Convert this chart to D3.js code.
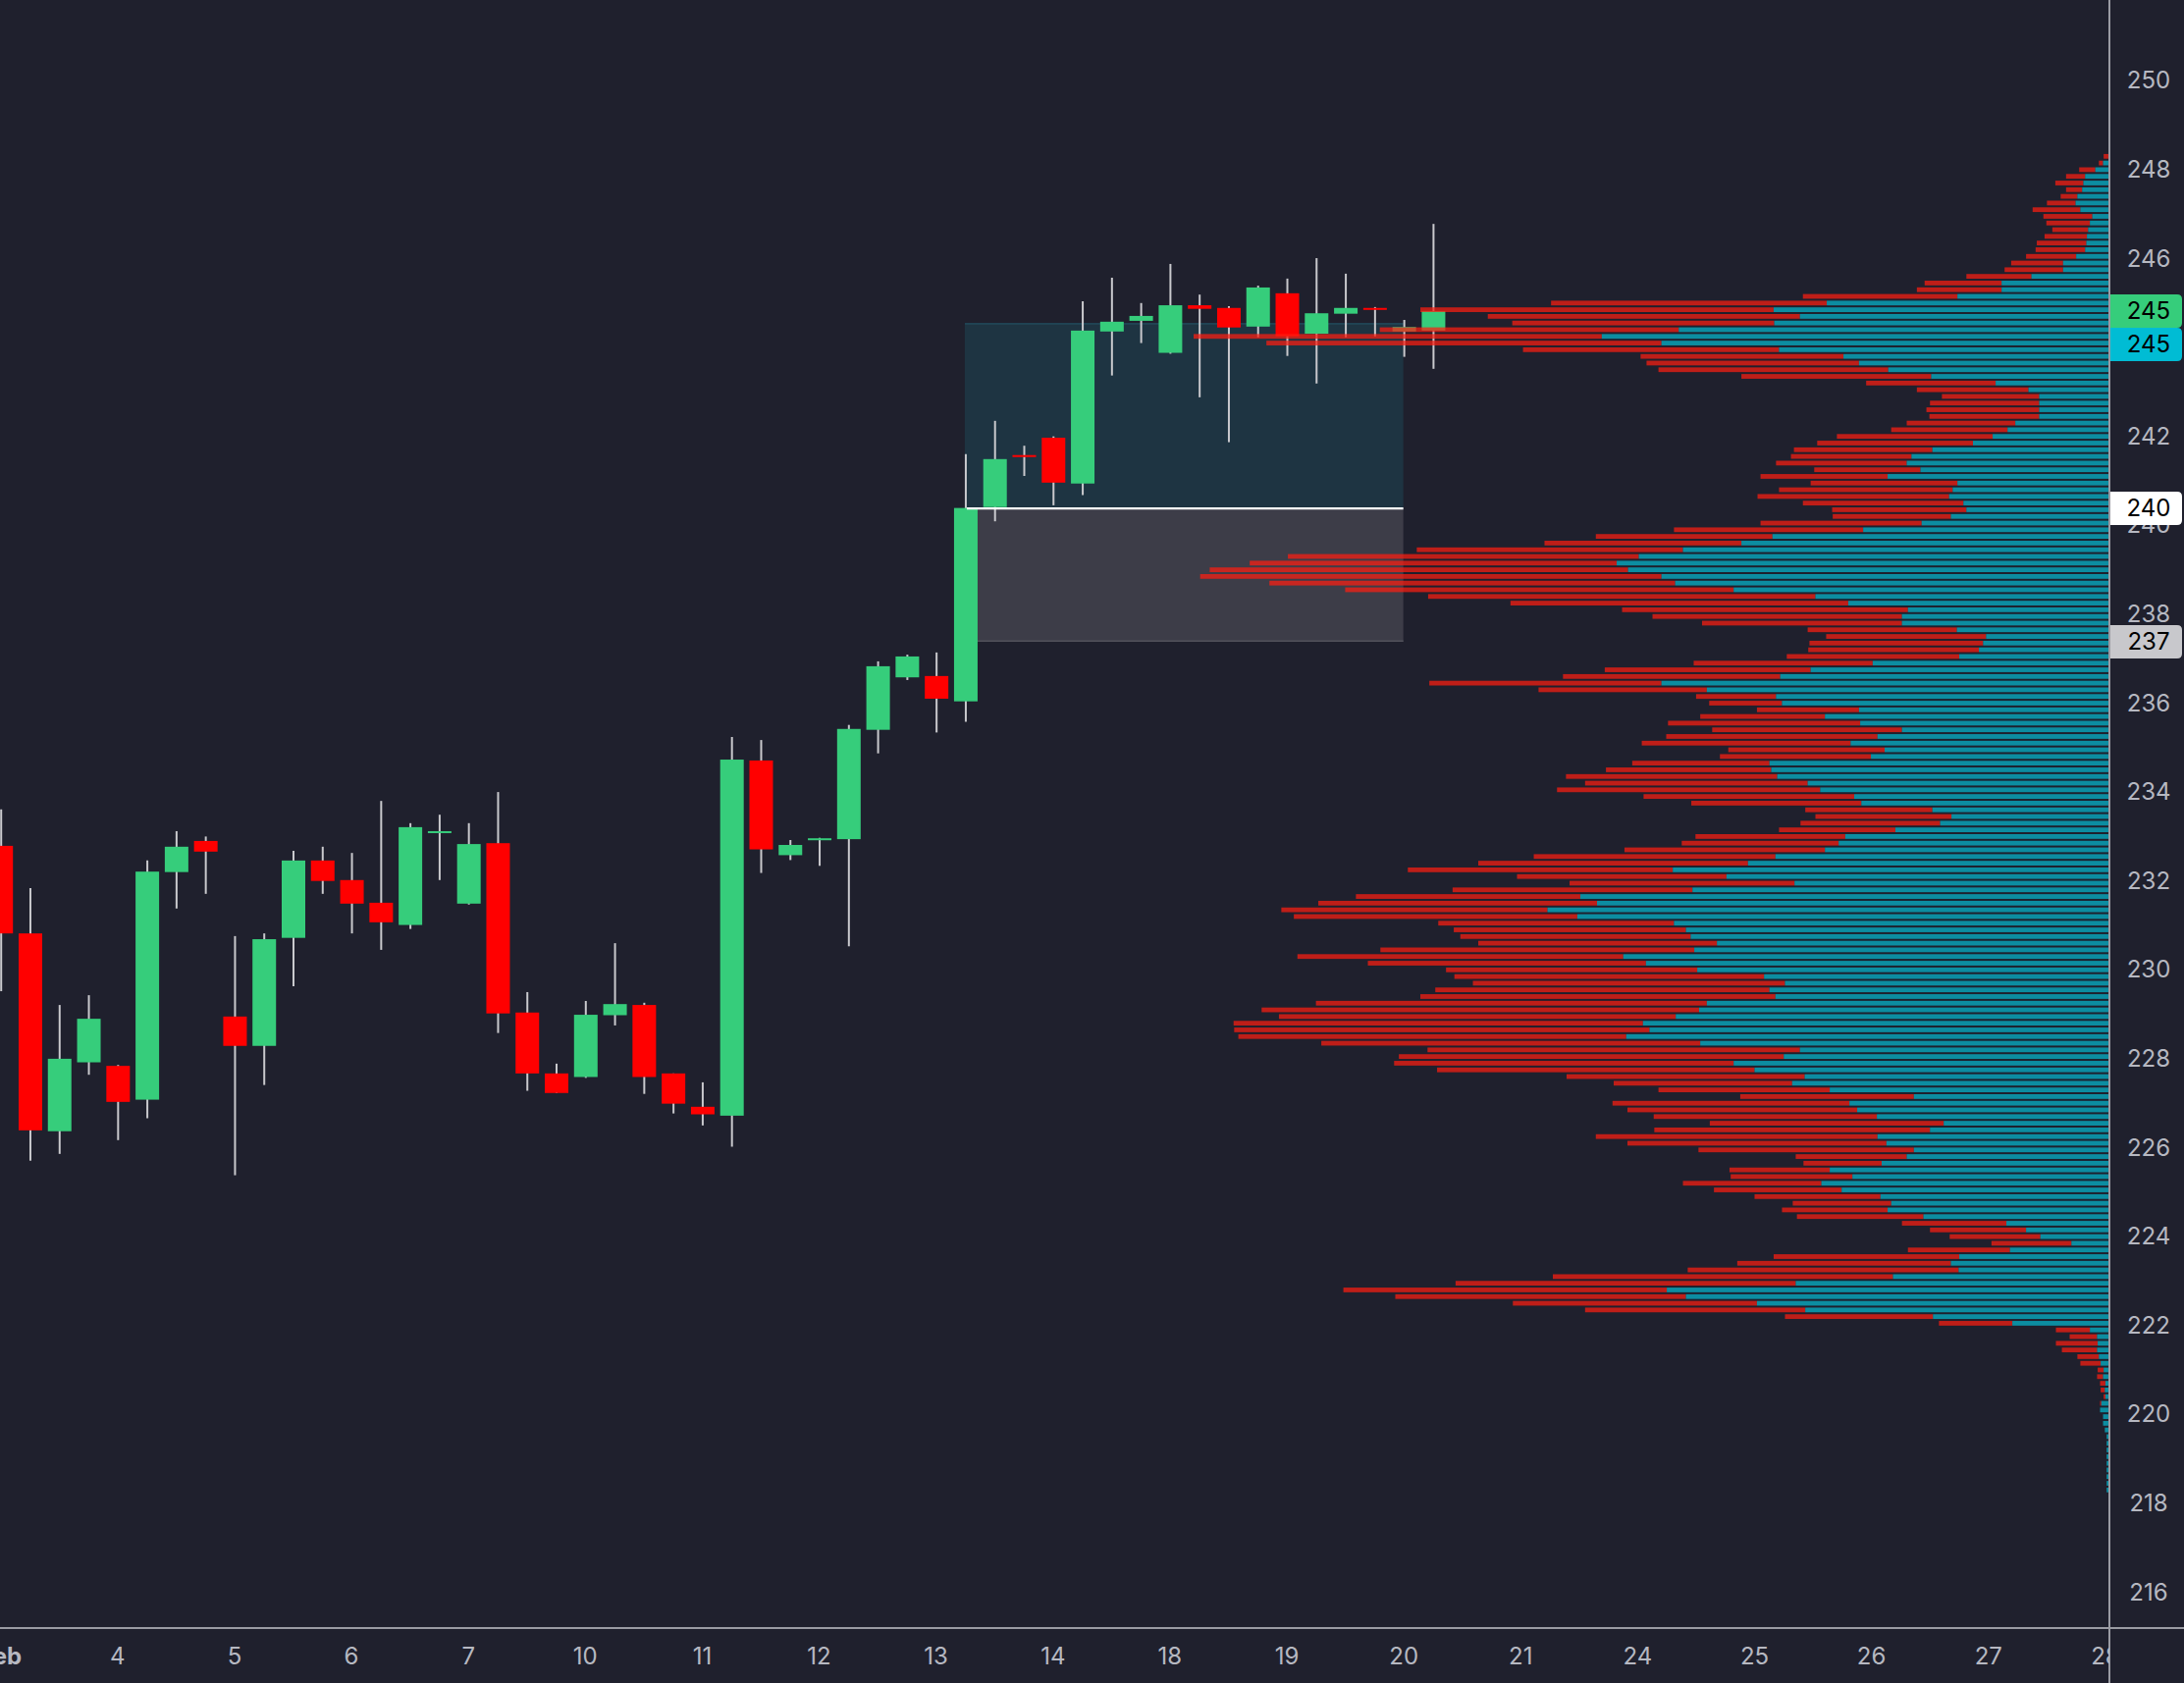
<!DOCTYPE html>
<html><head><meta charset="utf-8">
<script src="https://cdn.jsdelivr.net/npm/d3@7"></script>
<style>
html,body{margin:0;padding:0;background:#1f202d;overflow:hidden;}
svg{display:block;}
text{font-family:Inter,"Noto Sans",sans-serif;}
</style></head>
<body><svg id="chart" width="2225" height="1715"></svg>
<script>
// ---- Candles (4 bars per trading day, Feb 3 .. Feb 20) ----
const opens  = [232.79,230.82,226.37,227.92,227.84,227.08,232.20,232.90,228.95,228.29,
                230.72,232.46,232.02,231.51,231.01,233.08,231.49,232.85,229.04,227.67,
                227.59,228.98,229.21,227.67,226.92,226.72,234.71,232.58,232.92,232.94,
                235.40,236.58,236.61,236.04,240.41,241.58,241.97,240.94,244.36,244.60,
                243.88,244.95,244.89,244.47,245.22,244.31,244.76,244.89,244.36,244.38];
const highs  = [233.61,231.84,229.21,229.43,227.86,232.46,233.12,233.00,230.76,230.82,
                232.68,232.77,232.63,233.80,233.30,233.49,233.30,234.00,229.50,227.89,
                229.30,230.60,229.26,227.67,227.47,235.24,235.17,232.92,232.97,235.51,
                236.94,237.09,237.14,241.60,242.35,241.79,242.00,245.04,245.57,245.00,
                245.88,245.19,244.93,245.39,245.55,246.01,245.66,244.91,244.62,246.78];
const lows   = [229.52,225.71,225.86,227.64,226.17,226.66,231.38,231.71,225.38,227.41,
                229.63,231.71,230.82,230.45,230.92,232.02,231.47,228.58,227.28,227.23,
                227.57,228.75,227.21,226.77,226.50,226.02,232.18,232.47,232.34,230.53,
                234.87,236.52,235.34,235.58,240.09,241.11,240.45,240.68,243.37,244.10,
                243.86,242.88,241.87,244.23,243.81,243.19,244.23,244.25,243.79,243.52];
const closes = [230.82,226.39,228.00,228.90,227.03,232.21,232.77,232.66,228.29,230.69,
                232.46,232.00,231.49,231.07,233.21,233.12,232.83,229.02,227.67,227.23,
                228.99,229.23,227.59,226.99,226.75,234.73,232.71,232.81,232.96,235.42,
                236.83,237.05,236.10,240.39,241.49,241.54,240.96,244.38,244.58,244.71,
                244.95,244.87,244.45,245.35,244.25,244.77,244.89,244.85,244.46,244.82];

// ---- Time axis labels (bar index where each day starts) ----
const dayIndex  = [0,4,8,12,16,20,24,28,32,36,40,44,48,52,56,60,64,68,72];
const dayLabels = ["Feb","4","5","6","7","10","11","12","13","14","18","19","20","21","24","25","26","27","28"];

// ---- Price axis ticks ----
const priceTicks = [216,218,220,222,224,226,228,230,232,234,236,238,240,242,244,246,248,250,252];

// ---- Long position tool ----
const posStart = 33, posEnd = 48;
const posEntry = 240.38, posTarget = 244.55, posStop = 237.38;

// ---- Volume profile (rows of 0.15 from 248.30 downward) ----
const profileTop = 248.30, profileRow = 0.15;
const profileUp = [
 0,9,22,39,42,44,52,55,47,27, 31,34,36,37,39,54,76,76,129,179,
 179,253,472,561,517,560,720,849,749,552, 444,418,369,297,189,134,116,116,116,116,
 156,169,194,227,295,330,338,315,370,253, 261,267,243,238,264,313,411,563,615,713,
 787,824,805,749,726,628,491,436,336,346, 346,254,205,210,217,250,395,499,550,749,
 673,557,547,418,475,416,346,387,432,375, 398,568,565,555,504,483,426,414,295,263,
 282,357,441,452,475,558,604,730,640,526, 697,885,857,940,890,728,708,700,656,694,
 813,775,689,577,542,568,558,673,686,725, 780,769,808,684,517,544,628,593,509,530,
 467,326,434,421,388,276,299,387,372,326, 338,380,467,429,481,447,382,364,370,310,
 171,138,114,62,165,250,264,251,361,524, 740,708,589,508,294,161,31,19,18,19,
 16,13,8,9,5,6,5,12,14,9, 9,6,3,3,3,3,3,3,3,3, 3];
const profileDown = [
 8,7,27,32,47,27,28,48,80,82, 73,60,71,83,83,84,87,98,109,129,
 142,259,462,592,523,439,501,684,662,429, 340,356,385,318,217,187,163,183,189,184,
 182,195,261,261,232,202,219,178,213,246, 291,321,269,225,198,270,317,296,330,446,
 588,615,701,773,680,651,649,566,479,418, 335,250,268,291,286,289,300,345,364,389,
 282,134,122,171,209,322,318,354,350,262, 253,230,277,354,373,441,353,285,213,228,
 234,195,251,263,336,405,452,444,351,377, 402,376,467,446,475,395,389,386,400,526,
 546,466,421,519,523,560,595,655,733,665, 686,696,650,635,624,645,569,532,399,299,
 287,291,397,385,374,392,462,472,434,361, 186,131,168,204,232,214,211,165,177,212,
 175,161,152,134,171,311,358,454,570,570, 542,487,409,369,248,123,57,46,70,59,
 36,34,10,10,9,7,3,2,0,0, 0,0,0,0,0,0,0,0,0,0, 0];

// ---- Right-side price labels ----
const priceLabels = [
  {value: closes[closes.length-1], fill: "#36cd7b", text: "#000"},
  {value: posTarget, fill: "#00bcd4", text: "#000"},
  {value: posEntry,  fill: "#ffffff", text: "#000"},
  {value: posStop,   fill: "#c8c8cc", text: "#000"}
];

// ================= drawing =================
const W = 2225, H = 1715;
const paneRight = 2149, axisY = 1659;
const C = {bg:"#1f202d", up:"#36cd7b", down:"#ff0000", wick:"#c9c9cd",
           axis:"#9a9ba3", tick:"#b6b8c1"};

const svg = d3.select("#chart");
svg.append("rect").attr("width", W).attr("height", H).attr("fill", C.bg);

const x = d3.scaleLinear().domain([0, 72]).range([0.2, 0.2 + 29.78 * 72]);
const y = d3.scaleLinear().domain([216, 250]).range([1622.5, 82.3]);

const defs = svg.append("defs");
defs.append("clipPath").attr("id","pane").append("rect")
  .attr("x",0).attr("y",0).attr("width",paneRight).attr("height",axisY);
defs.append("clipPath").attr("id","xaxisclip").append("rect")
  .attr("x",0).attr("y",axisY).attr("width",paneRight).attr("height",H-axisY);

const pane = svg.append("g").attr("clip-path","url(#pane)");

// long position tool boxes
const x0 = x(posStart), x1 = x(posEnd);
pane.append("rect").attr("x",x0).attr("width",x1-x0)
  .attr("y",y(posTarget)).attr("height",y(posEntry)-y(posTarget)).attr("fill","#1e3442");
pane.append("rect").attr("x",x0).attr("width",x1-x0)
  .attr("y",y(posTarget)).attr("height",1.5).attr("fill","#22495a");
pane.append("rect").attr("x",x0).attr("width",x1-x0)
  .attr("y",y(posEntry)).attr("height",y(posStop)-y(posEntry)).attr("fill","#3d3d48");
pane.append("rect").attr("x",x0).attr("width",x1-x0)
  .attr("y",y(posStop)-1.5).attr("height",1.5).attr("fill","#52525c");

// candles
const idx = d3.range(opens.length);
const bw = 24;
const cg = pane.append("g");
cg.selectAll("line.wick").data(idx).join("line").attr("class","wick")
  .attr("x1", i => x(i)+1).attr("x2", i => x(i)+1)
  .attr("y1", i => y(highs[i])).attr("y2", i => y(lows[i]))
  .attr("stroke", C.wick).attr("stroke-width", 2);
cg.selectAll("rect.body").data(idx).join("rect").attr("class","body")
  .attr("x", i => x(i) - bw/2 + 1).attr("width", bw)
  .attr("y", i => y(Math.max(opens[i], closes[i])))
  .attr("height", i => Math.max(2, Math.abs(y(opens[i]) - y(closes[i]))))
  .attr("fill", i => closes[i] >= opens[i] ? C.up : C.down);

// entry line
pane.append("line").attr("x1", x0+2).attr("x2", x1)
  .attr("y1", y(posEntry)).attr("y2", y(posEntry))
  .attr("stroke", "#ffffff").attr("stroke-width", 2.2);

// volume profile
const rows = d3.range(profileUp.length).map(k => ({
  price: profileTop - profileRow * k, up: profileUp[k], down: profileDown[k]
}));
const vx = d3.scaleLinear().domain([0, d3.max(rows, r => r.up + r.down)]).range([0, 932]);
const vRight = paneRight - 1, rowH = 4.8;
const vg = pane.append("g");
vg.selectAll("rect.vdn").data(rows.filter(r => r.down > 0)).join("rect").attr("class","vdn")
  .attr("x", r => vRight - vx(r.up + r.down)).attr("width", r => vx(r.down))
  .attr("y", r => y(r.price) - rowH/2).attr("height", rowH)
  .attr("fill", "rgb(254,29,17)").attr("fill-opacity", 0.72);
vg.selectAll("rect.vup").data(rows.filter(r => r.up > 0)).join("rect").attr("class","vup")
  .attr("x", r => vRight - vx(r.up)).attr("width", r => vx(r.up))
  .attr("y", r => y(r.price) - rowH/2).attr("height", rowH)
  .attr("fill", "rgb(6,183,206)").attr("fill-opacity", 0.72);

// axis lines
svg.append("line").attr("x1",0).attr("x2",W).attr("y1",axisY).attr("y2",axisY)
  .attr("stroke",C.axis).attr("stroke-width",2);
svg.append("line").attr("x1",paneRight).attr("x2",paneRight).attr("y1",0).attr("y2",H)
  .attr("stroke",C.axis).attr("stroke-width",2);

// y axis ticks
const yAxis = d3.axisRight(y).tickValues(priceTicks).tickSize(0).tickPadding(0)
  .tickFormat(d3.format("d"));
const yg = svg.append("g").attr("transform", `translate(2189,0)`).call(yAxis);
yg.select(".domain").remove();
yg.selectAll("text").attr("fill", C.tick).attr("font-size", 24)
  .attr("text-anchor","middle").attr("font-family","Inter,'Noto Sans',sans-serif");

// x axis ticks
const xAxis = d3.axisBottom(x).tickValues(dayIndex).tickSize(0).tickPadding(20)
  .tickFormat((d, i) => dayLabels[i]);
const xg = svg.append("g").attr("clip-path","url(#xaxisclip)")
  .append("g").attr("transform", `translate(0,${axisY})`).call(xAxis);
xg.select(".domain").remove();
xg.selectAll("text").attr("fill", C.tick).attr("font-size", 24)
  .attr("font-family","Inter,'Noto Sans',sans-serif")
  .attr("font-weight", (d, i) => dayLabels[i] === "Feb" ? 700 : 400);

// price labels with collision push-down
const labH = 34, labW = 73;
const placed = priceLabels.map(l => ({...l, cy: y(l.value)})).sort((a,b) => a.cy - b.cy);
for (let k = 1; k < placed.length; k++) {
  if (placed[k].cy - placed[k-1].cy < labH) placed[k].cy = placed[k-1].cy + labH;
}
const lg = svg.append("g");
placed.forEach(l => {
  const top = l.cy - labH/2, left = paneRight + 1, r = 5;
  const path = `M${left},${top} H${left+labW-r} Q${left+labW},${top} ${left+labW},${top+r}
    V${top+labH-r} Q${left+labW},${top+labH} ${left+labW-r},${top+labH} H${left} Z`;
  lg.append("path").attr("d", path).attr("fill", l.fill);
  lg.append("text").attr("x", 2189).attr("y", l.cy).attr("dy","0.35em")
    .attr("text-anchor","middle").attr("font-size",24).attr("fill", l.text)
    .text(d3.format("d")(Math.round(l.value)));
});
</script>
</body></html>
